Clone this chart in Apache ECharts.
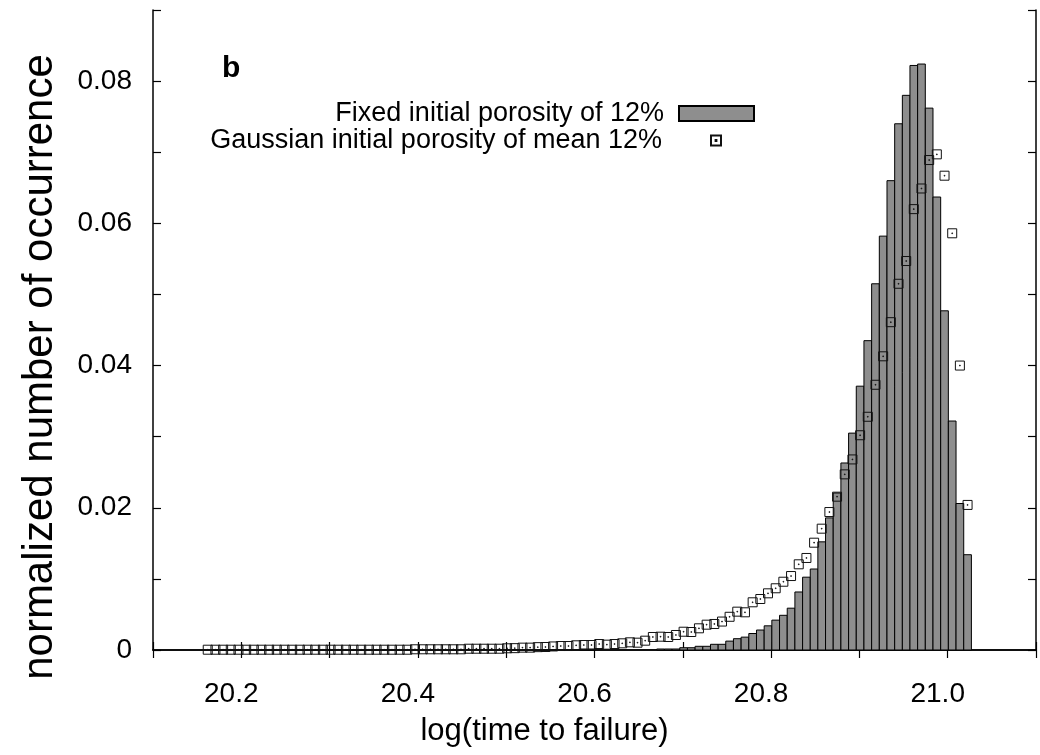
<!DOCTYPE html>
<html>
<head>
<meta charset="utf-8">
<script src="https://cdn.jsdelivr.net/npm/echarts@6/dist/echarts.min.js"></script>
<style>
  html, body { margin: 0; padding: 0; background: #fff; }
  #chart { width: 1040px; height: 755px; }
</style>
</head>
<body>
<div id="chart"></div>
<script>
// ---- data ----
const seriesNames = ['Fixed initial porosity of 12%', 'Gaussian initial porosity of mean 12%'];
const xTickLabels = ['20.2', '20.4', '20.6', '20.8', '21.0'];
const yTickLabels = ['0', '0.02', '0.04', '0.06', '0.08'];
const binWidth = 0.00869;

// centres of the 100 histogram bins (log(time to failure))
const binCenters = [
  20.1620, 20.1707, 20.1794, 20.1881, 20.1968, 20.2055, 20.2142, 20.2228, 20.2315, 20.2402,
  20.2489, 20.2576, 20.2663, 20.2750, 20.2837, 20.2924, 20.3011, 20.3098, 20.3185, 20.3271,
  20.3358, 20.3445, 20.3532, 20.3619, 20.3706, 20.3793, 20.3880, 20.3967, 20.4054, 20.4141,
  20.4228, 20.4315, 20.4401, 20.4488, 20.4575, 20.4662, 20.4749, 20.4836, 20.4923, 20.5010,
  20.5097, 20.5184, 20.5271, 20.5358, 20.5444, 20.5531, 20.5618, 20.5705, 20.5792, 20.5879,
  20.5966, 20.6053, 20.6140, 20.6227, 20.6314, 20.6401, 20.6487, 20.6574, 20.6661, 20.6748,
  20.6835, 20.6922, 20.7009, 20.7096, 20.7183, 20.7270, 20.7357, 20.7444, 20.7530, 20.7617,
  20.7704, 20.7791, 20.7878, 20.7965, 20.8052, 20.8139, 20.8226, 20.8313, 20.8400, 20.8487,
  20.8573, 20.8660, 20.8747, 20.8834, 20.8921, 20.9008, 20.9095, 20.9182, 20.9269, 20.9356,
  20.9443, 20.9530, 20.9616, 20.9703, 20.9790, 20.9877, 20.9964, 21.0051, 21.0138, 21.0225
];

// fixed initial porosity (grey bars)
const fixedValues = [
  0, 0, 0, 0, 0, 0, 0, 0, 0, 0,
  0, 0, 0, 0, 0, 0, 0, 0, 0, 0,
  0, 0, 0, 0, 0, 0, 0, 0, 0, 0,
  0, 0, 0, 0, 0, 0, 0, 0, 0, 0,
  0, 0, 0, 0, 0, 0, 0, 0, 0, 0.00014,
  0.00014, 0, 0, 0, 0, 0, 0, 0, 0, 0.00014,
  0.00014, 0.00014, 0.00032, 0.00032, 0.00052, 0.00052, 0.0008, 0.0008, 0.00125, 0.00159,
  0.00181, 0.00232, 0.00281, 0.0034, 0.0042, 0.00488, 0.00588, 0.00816, 0.01024, 0.01139,
  0.01521, 0.01858, 0.02208, 0.0263, 0.0305, 0.0371, 0.0435, 0.0515, 0.0582, 0.0660,
  0.0740, 0.0780, 0.0822, 0.0824, 0.0762, 0.0637, 0.0477, 0.0322, 0.0206, 0.0134
];

// gaussian initial porosity (open squares)
const gaussValues = [
  0.00004, 0.00004, 0.00004, 0.00004, 0.00004, 0.00004, 0.00004, 0.00004, 0.00004, 0.00004,
  0.00004, 0.00004, 0.00004, 0.00004, 0.00004, 0.00004, 0.00004, 0.00004, 0.00004, 0.00004,
  0.00004, 0.00004, 0.00004, 0.00004, 0.00004, 0.00004, 0.00004, 0.0001, 0.0001, 0.0001,
  0.0001, 0.0001, 0.0001, 0.0001, 0.00018, 0.00018, 0.00018, 0.00018, 0.00018, 0.00024,
  0.00026, 0.00033, 0.00033, 0.0004, 0.00042, 0.0005, 0.00056, 0.00056, 0.00066, 0.0007,
  0.0007, 0.00084, 0.00075, 0.00084, 0.00094, 0.00108, 0.00103, 0.00131, 0.00183, 0.00187,
  0.00183, 0.00211, 0.00257, 0.00253, 0.00305, 0.00356, 0.00366, 0.004, 0.00467, 0.00539,
  0.0053, 0.00671, 0.00717, 0.00797, 0.00868, 0.0096, 0.0104, 0.01205, 0.01294, 0.01509,
  0.01706, 0.0194, 0.02156, 0.0247, 0.0268, 0.0302, 0.0328, 0.0373, 0.0413, 0.0461,
  0.0515, 0.0547, 0.0620, 0.0649, 0.0689, 0.0697, 0.0667, 0.0586, 0.0400, 0.0204
];

// ---- chart ----
const FONT = 'Liberation Sans, Arial, Helvetica, sans-serif';
const fixedData = binCenters.map((x, i) => [x, fixedValues[i]]);
const gaussData = binCenters.map((x, i) => [x, gaussValues[i]]);

function xLabel(v) {
  const s = v.toFixed(1);
  return xTickLabels.indexOf(s) >= 0 ? s : '';
}
function yLabel(v) {
  const s = Math.abs(v) < 1e-9 ? '0' : v.toFixed(2);
  return yTickLabels.indexOf(s) >= 0 ? s : '';
}

const lineStyle = { color: '#000', width: 1.5 };
const tick = { show: true, inside: true, length: 8, lineStyle: { color: '#000', width: 1.2 } };

const chart = echarts.init(document.getElementById('chart'), null, { renderer: 'canvas' });
chart.setOption({
  backgroundColor: '#fff',
  animation: false,
  textStyle: { fontFamily: FONT },
  grid: { left: 153, right: 4, top: 10, bottom: 105, containLabel: false },
  xAxis: [{
    type: 'value', position: 'bottom', min: 20.1, max: 21.1, interval: 0.1,
    axisLine: { show: true, lineStyle: lineStyle },
    axisTick: tick,
    splitLine: { show: false },
    axisLabel: { formatter: xLabel, fontSize: 28, color: '#000', margin: 30, fontFamily: FONT,
                 padding: [0, 20, 0, 0] },
    name: 'log(time to failure)', nameLocation: 'middle', nameGap: 66,
    nameTextStyle: { fontSize: 31, color: '#000', fontFamily: FONT, padding: [0, 100, 0, 0] }
  }, {
    type: 'value', position: 'top', min: 20.1, max: 21.1, interval: 0.1,
    axisLine: { show: true, lineStyle: lineStyle },
    axisTick: tick, axisLabel: { show: false }, splitLine: { show: false }
  }],
  yAxis: [{
    type: 'value', position: 'left', min: 0, max: 0.09, interval: 0.01,
    axisLine: { show: true, lineStyle: lineStyle },
    axisTick: tick,
    splitLine: { show: false },
    axisLabel: { formatter: yLabel, fontSize: 28, color: '#000', margin: 21, fontFamily: FONT },
    name: 'normalized number of occurrence', nameLocation: 'middle', nameGap: 92,
    nameTextStyle: { fontSize: 42, color: '#000', fontFamily: FONT, padding: [0, 74, 0, 0] }
  }, {
    type: 'value', position: 'right', min: 0, max: 0.09, interval: 0.01,
    axisLine: { show: true, lineStyle: lineStyle },
    axisTick: tick, axisLabel: { show: false }, splitLine: { show: false }
  }],
  legend: [{
    data: [{ name: seriesNames[0], icon: 'rect' }],
    right: 285, top: 100, padding: 0, align: 'right', orient: 'vertical',
    itemWidth: 75, itemHeight: 15,
    textStyle: { fontSize: 27, color: '#000', fontFamily: FONT, padding: [0, 10, 0, 0] }
  }, {
    data: [seriesNames[1]],
    right: 318, top: 127, padding: 0, align: 'right', orient: 'vertical',
    itemWidth: 10, itemHeight: 10,
    textStyle: { fontSize: 27, color: '#000', fontFamily: FONT, padding: [0, 44, 0, 0] }
  }],
  graphic: [{
    type: 'text', left: 222, top: 54,
    style: { text: 'b', font: 'bold 30px ' + FONT, fill: '#000' }
  }],
  series: [{
    name: seriesNames[0],
    type: 'custom',
    xAxisIndex: 0, yAxisIndex: 0,
    data: fixedData,
    encode: { x: 0, y: 1 },
    itemStyle: { color: '#8e8e8e', borderColor: '#000', borderWidth: 1 },
    renderItem: function (params, api) {
      const x = api.value(0), y = api.value(1);
      if (!(y > 0)) return null;
      const p0 = api.coord([x - binWidth / 2, y]);
      const p1 = api.coord([x + binWidth / 2, 0]);
      return {
        type: 'rect',
        shape: { x: p0[0], y: p0[1], width: p1[0] - p0[0], height: p1[1] - p0[1] },
        style: { fill: '#8e8e8e', stroke: '#000', lineWidth: 1 }
      };
    },
    z: 2
  }, {
    name: seriesNames[1],
    type: 'scatter',
    xAxisIndex: 0, yAxisIndex: 0,
    data: gaussData,
    symbol: 'path://M0 0H10V10H0Z M4.6 4.6H5.4V5.4H4.6Z',
    symbolSize: 9,
    itemStyle: { color: 'rgba(0,0,0,0)', borderColor: '#111', borderWidth: 1, opacity: 1 },
    z: 3
  }]
});
</script>
</body>
</html>
